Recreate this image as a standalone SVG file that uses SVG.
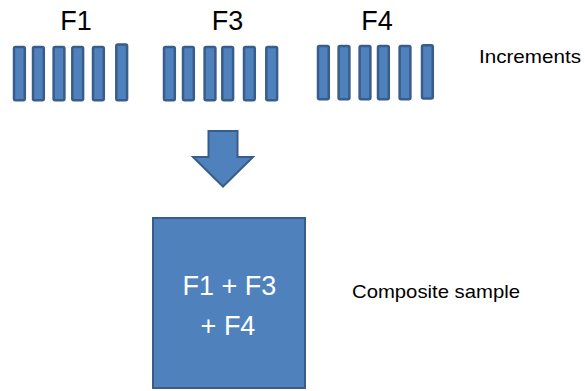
<svg xmlns="http://www.w3.org/2000/svg" width="585" height="391" viewBox="0 0 585 391">
<style>
.bar{fill:#4F81BD;stroke:#385D8A;stroke-width:2.5}
.lbl{font-family:"Liberation Sans",Arial,sans-serif;font-size:27px;fill:#000;text-anchor:middle}
.side{font-family:"Liberation Sans",Arial,sans-serif;font-size:19px;fill:#000}
.boxtxt{font-family:"Liberation Sans",Arial,sans-serif;font-size:27px;fill:#fff;text-anchor:middle}
</style>
<rect width="585" height="391" fill="#fff"/>
<g id="F1">
<text class="lbl" x="76" y="30">F1</text>
<rect class="bar" x="14" y="47" width="10.8" height="53.3" rx="1.5"/>
<rect class="bar" x="33" y="47" width="10.8" height="53.3" rx="1.5"/>
<rect class="bar" x="53.6" y="47" width="10.8" height="53.3" rx="1.5"/>
<rect class="bar" x="72.3" y="47" width="10.8" height="53.3" rx="1.5"/>
<rect class="bar" x="93" y="47" width="10.8" height="53.3" rx="1.5"/>
<rect class="bar" x="116.3" y="44.6" width="10.8" height="55.7" rx="1.5"/>
</g>
<g id="F3">
<text class="lbl" x="227.5" y="30">F3</text>
<rect class="bar" x="164" y="47" width="10.8" height="53.3" rx="1.5"/>
<rect class="bar" x="183" y="47" width="10.8" height="53.3" rx="1.5"/>
<rect class="bar" x="204.6" y="47" width="10.8" height="53.3" rx="1.5"/>
<rect class="bar" x="222.3" y="47" width="10.8" height="53.3" rx="1.5"/>
<rect class="bar" x="244" y="47" width="10.8" height="53.3" rx="1.5"/>
<rect class="bar" x="266.3" y="47" width="10.8" height="53.3" rx="1.5"/>
</g>
<g id="F4">
<text class="lbl" x="377" y="30">F4</text>
<rect class="bar" x="318" y="46" width="10.8" height="53.3" rx="1.5"/>
<rect class="bar" x="338.6" y="46" width="10.8" height="53.3" rx="1.5"/>
<rect class="bar" x="359.6" y="46" width="10.8" height="53.3" rx="1.5"/>
<rect class="bar" x="378" y="46" width="10.8" height="53.3" rx="1.5"/>
<rect class="bar" x="399.6" y="46" width="10.8" height="53.3" rx="1.5"/>
<rect class="bar" x="422" y="45.3" width="10.8" height="53.3" rx="1.5"/>
</g>
<g id="increments-label">
<text class="side" x="479" y="63" textLength="102" lengthAdjust="spacingAndGlyphs">Increments</text>
</g>
<g id="connectors">
<path d="M208.5,131 L237.5,131 L237.5,157 L253,157 L223,186.5 L193,157 L208.5,157 Z" fill="#4F81BD" stroke="#385D8A" stroke-width="2" stroke-linejoin="miter"/>
</g>
<g id="composite">
<rect x="153" y="218" width="152" height="170" fill="#4F81BD" stroke="#385D8A" stroke-width="2"/>
<text class="boxtxt" x="229.5" y="295">F1 + F3</text>
<text class="boxtxt" x="228" y="335">+ F4</text>
</g>
<g id="composite-label">
<text class="side" x="352" y="298" textLength="168" lengthAdjust="spacingAndGlyphs">Composite sample</text>
</g>
</svg>
